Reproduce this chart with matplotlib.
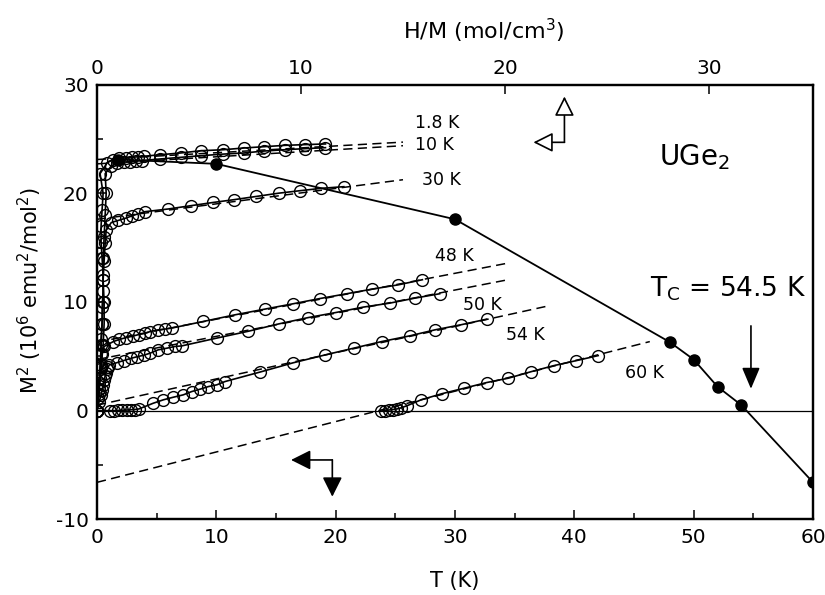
import matplotlib
matplotlib.use("Agg")
import matplotlib.pyplot as plt
from matplotlib.ticker import MultipleLocator

plt.rcParams['font.family'] = ['DejaVu Sans']
plt.rcParams['mathtext.default'] = 'regular'
plt.rcParams['axes.unicode_minus'] = False

# M^2(T) from the Arrott-plot intercepts (bottom axis)
temps = [1.8, 10, 30, 48, 50, 52, 54, 60]
m2_t = [23.1, 22.7, 17.6, 6.3, 4.7, 2.2, 0.5, -6.6]

# isotherms: H/M (top axis) vs M^2
hm_1p8 = [0.0, 0.05, 0.1, 0.15, 0.2, 0.2, 0.25, 0.25, 0.3, 0.3, 0.25, 0.2, 0.2, 0.25, 0.3, 0.15,
          0.5, 0.8, 1.1, 1.4, 1.7, 2.0, 2.3, 3.1, 4.1, 5.1, 6.2, 7.2, 8.2, 9.2, 10.2, 11.2]
m2_1p8 = [0.0, 1.2, 2.5, 3.8, 5.2, 6.6, 8.0, 9.5, 11.0, 12.5, 14.0, 15.5, 17.0, 18.5, 20.0, 21.8,
          22.8, 23.1, 23.2, 23.25, 23.3, 23.35, 23.4, 23.54, 23.7, 23.91, 24.0, 24.16, 24.28, 24.4, 24.47, 24.53]
hm_10 = [0.0, 0.1, 0.2, 0.3, 0.35, 0.35, 0.3, 0.3, 0.35, 0.4, 0.45, 0.4, 0.7, 1.0, 1.3, 1.6, 1.9, 2.2,
         3.1, 4.1, 5.1, 6.2, 7.2, 8.2, 9.2, 10.2, 11.2]
m2_10 = [0.0, 2.0, 4.0, 6.0, 8.0, 10.0, 12.0, 14.0, 16.0, 18.0, 20.0, 21.8, 22.5, 22.75, 22.85, 22.9, 22.95, 23.0,
         23.15, 23.3, 23.45, 23.6, 23.7, 23.88, 24.0, 24.1, 24.19]
hm_30 = [0.0, 0.1, 0.15, 0.2, 0.25, 0.3, 0.3, 0.35, 0.4, 0.45, 0.7, 1.05, 1.4, 1.7, 2.0, 2.35,
         3.5, 4.6, 5.7, 6.7, 7.8, 8.9, 9.95, 11.0, 12.1]
m2_30 = [0.0, 2.0, 4.0, 6.0, 8.0, 10.0, 12.0, 13.8, 15.4, 16.6, 17.3, 17.5, 17.7, 17.9, 18.1, 18.3,
         18.55, 18.85, 19.15, 19.4, 19.7, 20.0, 20.23, 20.45, 20.6]
hm_48 = [0.0, 0.1, 0.15, 0.2, 0.25, 0.35, 0.8, 1.1, 1.4, 1.75, 2.05, 2.35, 2.6, 3.0, 3.33, 3.66,
         5.21, 6.76, 8.24, 9.62, 10.93, 12.24, 13.5, 14.77, 15.95]
m2_48 = [0.0, 1.5, 3.0, 4.2, 5.2, 5.9, 6.35, 6.55, 6.7, 6.85, 7.0, 7.1, 7.27, 7.43, 7.5, 7.59,
         8.2, 8.81, 9.34, 9.83, 10.31, 10.75, 11.18, 11.57, 12.04]
hm_50 = [0.0, 0.1, 0.2, 0.25, 0.3, 0.35, 0.4, 0.45, 0.5, 0.55, 0.6, 0.96, 1.3, 1.65, 1.95, 2.3, 2.6, 3.0,
         3.42, 3.82, 4.15, 5.87, 7.42, 8.92, 10.36, 11.7, 13.05, 14.36, 15.59, 16.8]
m2_50 = [0.0, 0.8, 1.4, 1.9, 2.4, 2.8, 3.2, 3.5, 3.8, 4.0, 4.2, 4.4, 4.6, 4.8, 4.95, 5.1, 5.28, 5.59,
         5.74, 5.9, 5.95, 6.67, 7.3, 7.98, 8.56, 9.02, 9.52, 9.89, 10.35, 10.75]
hm_54 = [0.0, 0.64, 0.85, 1.05, 1.25, 1.45, 1.65, 1.85, 2.05, 2.76, 3.25, 3.74, 4.23, 4.64, 5.05, 5.46,
         5.87, 6.27, 8.0, 9.62, 11.2, 12.6, 13.95, 15.34, 16.57, 17.83, 19.1]
m2_54 = [0.0, 0.0, 0.0, 0.02, 0.03, 0.05, 0.08, 0.1, 0.15, 0.68, 0.99, 1.23, 1.45, 1.75, 1.97, 2.21,
         2.37, 2.67, 3.55, 4.4, 5.13, 5.75, 6.35, 6.88, 7.43, 7.89, 8.41]
hm_60 = [13.9, 14.1, 14.3, 14.5, 14.7, 14.9, 15.2, 15.9, 16.9, 18.0, 19.1, 20.16, 21.3, 22.4, 23.5, 24.57]
m2_60 = [-0.05, 0.0, 0.05, 0.1, 0.15, 0.25, 0.45, 1.0, 1.55, 2.06, 2.58, 2.98, 3.59, 4.14, 4.6, 5.06]

isotherms = [(hm_1p8, m2_1p8), (hm_10, m2_10), (hm_30, m2_30), (hm_48, m2_48),
             (hm_50, m2_50), (hm_54, m2_54), (hm_60, m2_60)]

# linear fits, drawn dashed: intercept at H/M=0 and end point
fit_y0 = [23.1, 22.7, 17.6, 6.3, 4.7, 0.5, -6.6]
fit_x1 = [15.0, 15.0, 15.0, 20.15, 20.15, 22.0, 27.1]
fit_y1 = [24.7, 24.37, 21.24, 13.57, 12.04, 9.58, 6.35]

iso_labels = ['1.8 K', '10 K', '30 K', '48 K', '50 K', '54 K', '60 K']
label_t = [26.65, 26.65, 27.2, 28.33, 30.7, 34.28, 44.26]
label_m2 = [26.0, 23.96, 20.72, 13.78, 9.27, 6.45, 2.98]

fig = plt.figure(figsize=(8.25, 5.95), dpi=100)
ax = fig.add_axes([97/825, 1-519.3/595, (813-97)/825, (519.3-84.5)/595])
ax2 = ax.twiny()
ax.set_zorder(ax2.get_zorder() + 1)
ax.patch.set_visible(False)

ax.set_xlim(0, 60)
ax.set_ylim(-10, 30)
ax2.set_xlim(0, 35.1)

ax.axhline(0, color='black', lw=0.9)

for (hm, m2), y0, x1, y1 in zip(isotherms, fit_y0, fit_x1, fit_y1):
    ax2.plot([0, x1], [y0, y1], color='black', lw=1.1, dashes=(6, 3.5))
    ax2.plot(hm, m2, '-o', color='black', lw=1.2, ms=8.5, mfc='none', mec='black', mew=1.0)

ax.plot(temps, m2_t, '-o', color='black', lw=1.3, ms=8, mfc='black', mec='black', zorder=5)

for s, x, y in zip(iso_labels, label_t, label_m2):
    ax.text(x, y, s, fontsize=12.5, va='baseline', ha='left')

ax.text(47.13, 22.6, 'UGe$_2$', fontsize=20, va='baseline', ha='left')
ax.text(46.35, 10.5, 'T$_C$ = 54.5 K', fontsize=19, va='baseline', ha='left')

# T_C arrow
ax.annotate('', xy=(54.8, 1.75), xytext=(54.8, 8.05),
            arrowprops=dict(arrowstyle='-|>,head_length=1.3,head_width=0.55', color='black', lw=1.2))

# open arrows -> top axis (isotherms)
for tip in [(39.17, 28.9), (36.57, 24.68)]:
    ax.annotate('', xy=tip, xytext=(39.17, 24.68),
                arrowprops=dict(arrowstyle='-|>,head_length=1.2,head_width=0.6',
                                fc='white', ec='black', lw=1.2, shrinkA=0, shrinkB=0))
# filled arrows -> bottom axis (M^2 vs T)
for tip in [(16.26, -4.54), (19.72, -7.92)]:
    ax.annotate('', xy=tip, xytext=(19.72, -4.54),
                arrowprops=dict(arrowstyle='-|>,head_length=1.2,head_width=0.6',
                                fc='black', ec='black', lw=1.2, shrinkA=0, shrinkB=0))

ax.xaxis.set_major_locator(MultipleLocator(10))
ax.xaxis.set_minor_locator(MultipleLocator(5))
ax.yaxis.set_major_locator(MultipleLocator(10))
ax.yaxis.set_minor_locator(MultipleLocator(5))
ax2.xaxis.set_major_locator(MultipleLocator(10))

for a in (ax, ax2):
    for sp in a.spines.values():
        sp.set_linewidth(1.6)
ax.tick_params(which='major', direction='in', length=6.5, width=1.1, labelsize=14.5, pad=6,
               top=False, right=False)
ax.tick_params(which='minor', direction='in', length=4.3, width=1.1, top=False, right=False)
ax2.tick_params(which='major', direction='in', length=6.5, width=1.1, labelsize=14.5, pad=5)

fig.text(455/825, 1-581/595, 'T (K)', fontsize=15, ha='center', va='center')
fig.text(484/825, 1-31/595, 'H/M (mol/cm$^3$)', fontsize=16, ha='center', va='center')
fig.text(30/825, 1-290/595, 'M$^2$ (10$^6$ emu$^2$/mol$^2$)', fontsize=15, ha='center', va='center',
         rotation=90)

fig.savefig('out.png', dpi=100)
